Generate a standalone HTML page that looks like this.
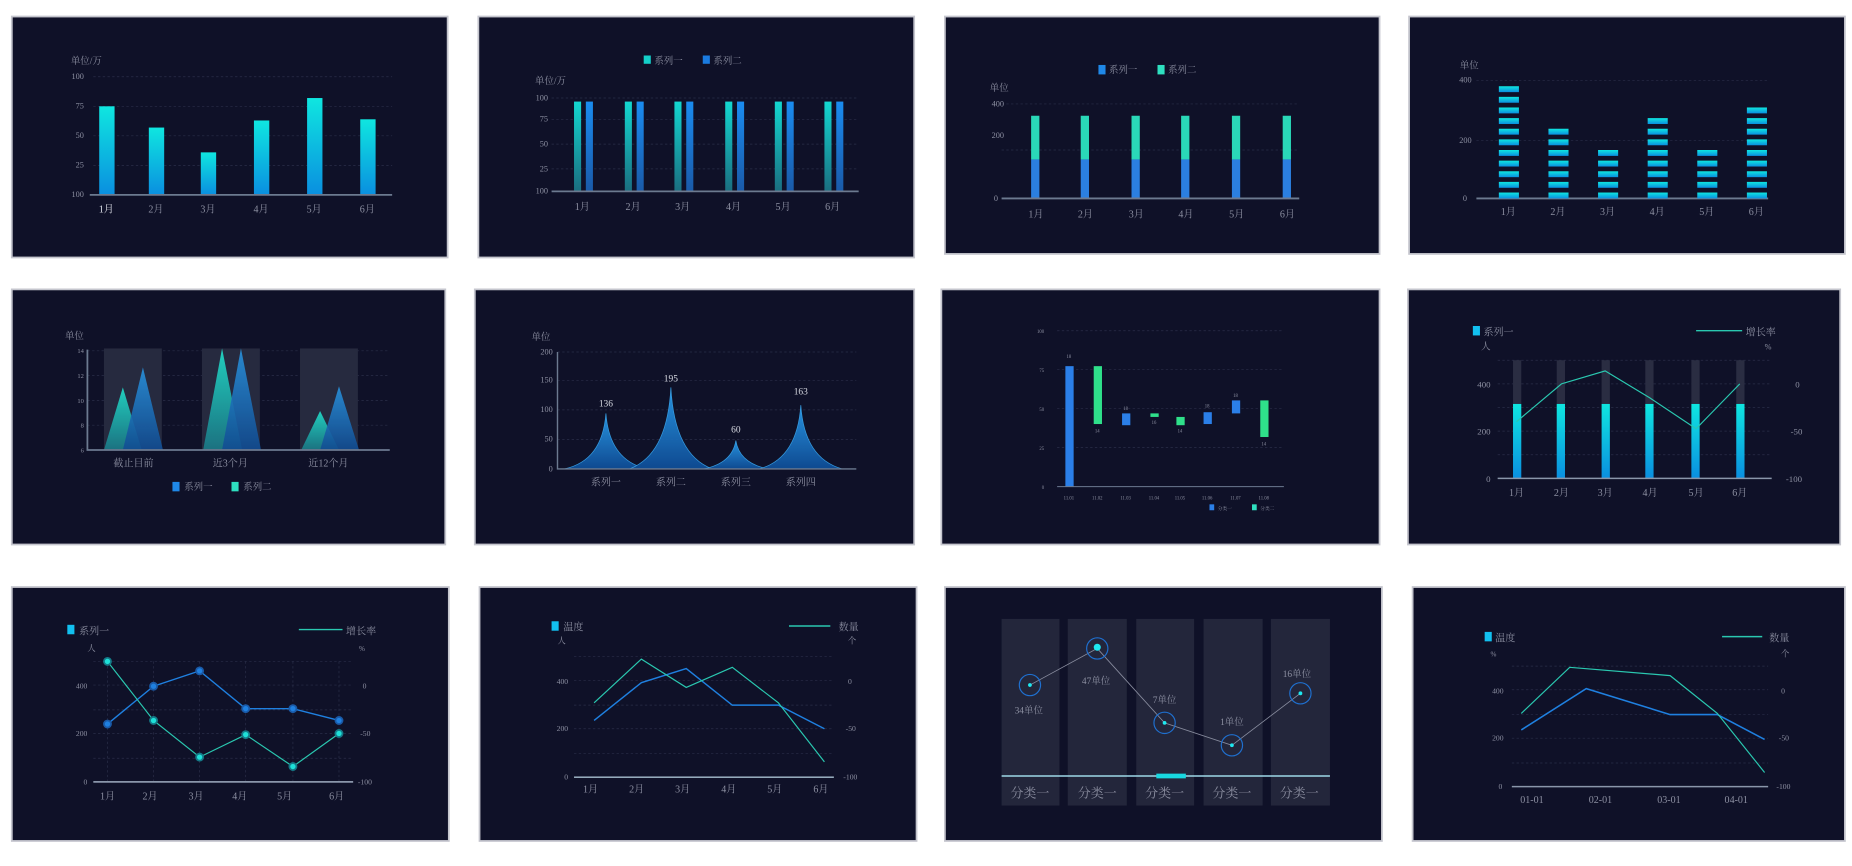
<!DOCTYPE html>
<html><head><meta charset="utf-8"><style>
html,body{margin:0;padding:0;background:#fff;}
svg{display:block;}
text{font-family:"Liberation Serif","Noto Serif CJK SC",serif;fill:#8d90a2;}
</style></head><body>
<svg width="1852" height="866" viewBox="0 0 1568 733.2" preserveAspectRatio="none" xmlns="http://www.w3.org/2000/svg">
<defs>
<linearGradient id="gc" x1="0" y1="0" x2="0" y2="1"><stop offset="0" stop-color="#0fe6e0"/><stop offset="1" stop-color="#0a8fe0"/></linearGradient>
<linearGradient id="gt" x1="0" y1="0" x2="0" y2="1"><stop offset="0" stop-color="#13d7d0"/><stop offset="1" stop-color="#1a6e80"/></linearGradient>
<linearGradient id="gb" x1="0" y1="0" x2="0" y2="1"><stop offset="0" stop-color="#1a8cf0"/><stop offset="1" stop-color="#1a5aa8"/></linearGradient>
<linearGradient id="gp" x1="0" y1="0" x2="0" y2="1"><stop offset="0" stop-color="#2a9ff0"/><stop offset="1" stop-color="#0f4f9a"/></linearGradient>
<linearGradient id="gtri" x1="0" y1="0" x2="0" y2="1"><stop offset="0" stop-color="#22e0cc"/><stop offset="1" stop-color="#1a7a88"/></linearGradient>
</defs>
<rect width="1568" height="733.2" fill="#fff"/>
<g fill="#0f1128" stroke="#c5c6ce" stroke-width="1.5">
<rect x="10" y="14" width="369" height="204"/><rect x="405" y="14" width="369" height="204"/>
<rect x="800" y="14" width="368" height="201"/><rect x="1193" y="14" width="369" height="201"/>
<rect x="10" y="245" width="367" height="216"/><rect x="402" y="245" width="372" height="216"/>
<rect x="797" y="245" width="371" height="216"/><rect x="1192" y="245" width="366" height="216"/>
<rect x="10" y="497" width="370" height="215"/><rect x="406" y="497" width="370" height="215"/>
<rect x="800" y="497" width="370" height="215"/><rect x="1196" y="497" width="366" height="215"/>
</g>
<g stroke="#2a2e48" stroke-width="0.6" stroke-dasharray="2,2">
<line x1="79" y1="65" x2="332" y2="65"/><line x1="79" y1="90" x2="332" y2="90"/><line x1="79" y1="115" x2="332" y2="115"/><line x1="79" y1="140" x2="332" y2="140"/>
<line x1="467" y1="83" x2="727" y2="83"/><line x1="467" y1="101" x2="727" y2="101"/><line x1="467" y1="122" x2="727" y2="122"/><line x1="467" y1="143" x2="727" y2="143"/>
<line x1="848" y1="88" x2="1100" y2="88"/><line x1="848" y1="127" x2="1100" y2="127"/>
<line x1="1250" y1="68" x2="1497" y2="68"/><line x1="1250" y1="119" x2="1497" y2="119"/>
<line x1="74" y1="297" x2="330" y2="297"/><line x1="74" y1="318" x2="330" y2="318"/><line x1="74" y1="339" x2="330" y2="339"/><line x1="74" y1="360" x2="330" y2="360"/>
<line x1="472" y1="298" x2="725" y2="298"/><line x1="472" y1="322" x2="725" y2="322"/><line x1="472" y1="347" x2="725" y2="347"/><line x1="472" y1="372" x2="725" y2="372"/>
<line x1="895" y1="280" x2="1087" y2="280"/><line x1="895" y1="313" x2="1087" y2="313"/><line x1="895" y1="346" x2="1087" y2="346"/><line x1="895" y1="379" x2="1087" y2="379"/>
<line x1="1268" y1="305" x2="1500" y2="305"/><line x1="1268" y1="325" x2="1500" y2="325"/><line x1="1268" y1="345" x2="1500" y2="345"/><line x1="1268" y1="365" x2="1500" y2="365"/><line x1="1268" y1="385" x2="1500" y2="385"/>
<line x1="79" y1="560" x2="299" y2="560"/><line x1="79" y1="580" x2="299" y2="580"/><line x1="79" y1="601" x2="299" y2="601"/><line x1="79" y1="621" x2="299" y2="621"/><line x1="79" y1="642" x2="299" y2="642"/>
<line x1="91" y1="560" x2="91" y2="662"/><line x1="130" y1="560" x2="130" y2="662"/><line x1="169" y1="560" x2="169" y2="662"/><line x1="208" y1="560" x2="208" y2="662"/><line x1="248" y1="560" x2="248" y2="662"/><line x1="287" y1="560" x2="287" y2="662"/>
<line x1="486" y1="556" x2="706" y2="556"/><line x1="486" y1="576" x2="706" y2="576"/><line x1="486" y1="597" x2="706" y2="597"/><line x1="486" y1="617" x2="706" y2="617"/><line x1="486" y1="638" x2="706" y2="638"/>
<line x1="1280" y1="564" x2="1497" y2="564"/><line x1="1280" y1="584" x2="1497" y2="584"/><line x1="1280" y1="605" x2="1497" y2="605"/><line x1="1280" y1="625" x2="1497" y2="625"/><line x1="1280" y1="646" x2="1497" y2="646"/>
</g>

<!-- P1 -->
<text x="60" y="54" font-size="8">单位/万</text>
<g font-size="7" text-anchor="end"><text x="71" y="67">100</text><text x="71" y="92">75</text><text x="71" y="117">50</text><text x="71" y="142">25</text><text x="71" y="167">100</text></g>
<g fill="url(#gc)"><rect x="84" y="90" width="13" height="75"/><rect x="126" y="108" width="13" height="57"/><rect x="170" y="129" width="13" height="36"/><rect x="215" y="102" width="13" height="63"/><rect x="260" y="83" width="13" height="82"/><rect x="305" y="101" width="13" height="64"/></g>
<line x1="76" y1="165" x2="332" y2="165" stroke="#6c7a90" stroke-width="1.5"/>
<g font-size="8.5" text-anchor="middle"><text x="90" y="180" style="fill:#e0e2ea">1月</text><text x="132" y="180">2月</text><text x="176" y="180">3月</text><text x="221" y="180">4月</text><text x="266" y="180">5月</text><text x="311" y="180">6月</text></g>

<!-- P2 -->
<rect x="545" y="47" width="6" height="7" fill="#14cfc9"/><text x="554" y="54" font-size="8">系列一</text>
<rect x="595" y="47" width="6" height="7" fill="#1a7be0"/><text x="604" y="54" font-size="8">系列二</text>
<text x="453" y="71" font-size="8">单位/万</text>
<g font-size="7" text-anchor="end"><text x="464" y="85">100</text><text x="464" y="103">75</text><text x="464" y="124">50</text><text x="464" y="145">25</text><text x="464" y="164">100</text></g>
<g><g fill="url(#gt)"><rect x="486" y="86" width="6" height="76"/><rect x="529" y="86" width="6" height="76"/><rect x="571" y="86" width="6" height="76"/><rect x="614" y="86" width="6" height="76"/><rect x="656" y="86" width="6" height="76"/><rect x="698" y="86" width="6" height="76"/></g>
<g fill="url(#gb)"><rect x="496" y="86" width="6" height="76"/><rect x="539" y="86" width="6" height="76"/><rect x="581" y="86" width="6" height="76"/><rect x="624" y="86" width="6" height="76"/><rect x="666" y="86" width="6" height="76"/><rect x="708" y="86" width="6" height="76"/></g></g>
<line x1="467" y1="162" x2="727" y2="162" stroke="#6c7a90" stroke-width="1.5"/>
<g font-size="8.5" text-anchor="middle"><text x="493" y="178">1月</text><text x="536" y="178">2月</text><text x="578" y="178">3月</text><text x="621" y="178">4月</text><text x="663" y="178">5月</text><text x="705" y="178">6月</text></g>

<!-- P3 -->
<rect x="930" y="55" width="6" height="8" fill="#1f88e8"/><text x="939" y="62" font-size="8">系列一</text>
<rect x="980" y="55" width="6" height="8" fill="#2ee0c0"/><text x="989" y="62" font-size="8">系列二</text>
<text x="838" y="77" font-size="8">单位</text>
<g font-size="7" text-anchor="end"><text x="850" y="90">400</text><text x="850" y="117">200</text><text x="845" y="170">0</text></g>
<g><g fill="#2ad8b8"><rect x="873" y="98" width="7" height="37"/><rect x="915" y="98" width="7" height="37"/><rect x="958" y="98" width="7" height="37"/><rect x="1000" y="98" width="7" height="37"/><rect x="1043" y="98" width="7" height="37"/><rect x="1086" y="98" width="7" height="37"/></g>
<g fill="#2b7fe0"><rect x="873" y="135" width="7" height="33"/><rect x="915" y="135" width="7" height="33"/><rect x="958" y="135" width="7" height="33"/><rect x="1000" y="135" width="7" height="33"/><rect x="1043" y="135" width="7" height="33"/><rect x="1086" y="135" width="7" height="33"/></g></g>
<line x1="848" y1="168" x2="1100" y2="168" stroke="#6c7a90" stroke-width="1.5"/>
<g font-size="8.5" text-anchor="middle"><text x="877" y="184">1月</text><text x="919" y="184">2月</text><text x="962" y="184">3月</text><text x="1004" y="184">4月</text><text x="1047" y="184">5月</text><text x="1090" y="184">6月</text></g>

<!-- P4 -->
<text x="1236" y="58" font-size="8">单位</text>
<g font-size="7" text-anchor="end"><text x="1246" y="70">400</text><text x="1246" y="121">200</text><text x="1242" y="170">0</text></g>
<g fill="url(#gc)" id="p4">
</g>
<line x1="1250" y1="168" x2="1497" y2="168" stroke="#6c7a90" stroke-width="1.5"/>
<g font-size="8.5" text-anchor="middle"><text x="1277" y="182">1月</text><text x="1319" y="182">2月</text><text x="1361" y="182">3月</text><text x="1403" y="182">4月</text><text x="1445" y="182">5月</text><text x="1487" y="182">6月</text></g>

<!-- P5 -->
<text x="55" y="287" font-size="8">单位</text>
<g fill="#262a3f"><rect x="88" y="295" width="49" height="86"/><rect x="171" y="295" width="49" height="86"/><rect x="254" y="295" width="49" height="86"/></g>
<g font-size="5.5" text-anchor="end"><text x="71" y="299">14</text><text x="71" y="320">12</text><text x="71" y="341">10</text><text x="71" y="362">8</text><text x="71" y="383">6</text></g>
<g opacity="0.9"><polygon points="88,381 104,328 120,381" fill="url(#gtri)"/><polygon points="104,381 121,311 138,381" fill="url(#gp)" opacity="0.9"/>
<polygon points="172,381 188,295 205,381" fill="url(#gtri)"/><polygon points="188,381 204,295 221,381" fill="url(#gp)" opacity="0.9"/>
<polygon points="255,381 271,348 287,381" fill="url(#gtri)"/><polygon points="271,381 287,327 304,381" fill="url(#gp)" opacity="0.9"/></g>
<polyline points="74,296 74,381 330,381" fill="none" stroke="#6c7a90" stroke-width="1.5"/>
<g font-size="8.5" text-anchor="middle"><text x="113" y="395">截止目前</text><text x="195" y="395">近3个月</text><text x="278" y="395">近12个月</text></g>
<rect x="146" y="408" width="6" height="8" fill="#1f88e8"/><text x="156" y="415" font-size="8">系列一</text>
<rect x="196" y="408" width="6" height="8" fill="#2ee0c0"/><text x="206" y="415" font-size="8">系列二</text>

<!-- P6 -->
<text x="450" y="288" font-size="8">单位</text>
<g font-size="7" text-anchor="end"><text x="468" y="300">200</text><text x="468" y="324">150</text><text x="468" y="349">100</text><text x="468" y="374">50</text><text x="468" y="399">0</text></g>
<g fill="url(#gp)" stroke="#3aa8f0" stroke-width="0.6" opacity="0.92">
<path d="M478,397 Q510,390 513,350 Q516,390 548,397 Z"/>
<path d="M533,397 Q565,385 568,328 Q571,385 603,397 Z"/>
<path d="M596,397 Q620,392 623,373 Q626,392 650,397 Z"/>
<path d="M643,397 Q675,388 678,343 Q681,388 713,397 Z"/>
</g>
<polyline points="472,298 472,397 725,397" fill="none" stroke="#6c7a90" stroke-width="1.2"/>
<g font-size="8" text-anchor="middle" style="fill:#d8dae2"><text x="513" y="344" style="fill:#d8dae2">136</text><text x="568" y="323" style="fill:#d8dae2">195</text><text x="623" y="366" style="fill:#d8dae2">60</text><text x="678" y="334" style="fill:#d8dae2">163</text></g>
<g font-size="8.5" text-anchor="middle"><text x="513" y="411">系列一</text><text x="568" y="411">系列二</text><text x="623" y="411">系列三</text><text x="678" y="411">系列四</text></g>

<!-- P7 -->
<g font-size="4" text-anchor="end"><text x="884" y="282">100</text><text x="884" y="315">75</text><text x="884" y="348">50</text><text x="884" y="381">25</text><text x="884" y="414">0</text></g>
<g fill="#2b7fe8"><rect x="902" y="310" width="7" height="102"/><rect x="950" y="350" width="7" height="10"/><rect x="1019" y="349" width="7" height="10"/><rect x="1043" y="339" width="7" height="11"/></g>
<g fill="#2fe08a"><rect x="926" y="310" width="7" height="49"/><rect x="974" y="350" width="7" height="3"/><rect x="996" y="353" width="7" height="7"/><rect x="1067" y="339" width="7" height="31"/></g>
<line x1="895" y1="412" x2="1087" y2="412" stroke="#6c7a90" stroke-width="0.8"/>
<g font-size="4" text-anchor="middle"><text x="905" y="303">18</text><text x="929" y="366">14</text><text x="953" y="347">18</text><text x="977" y="359">16</text><text x="999" y="366">14</text><text x="1022" y="345">18</text><text x="1046" y="336">18</text><text x="1070" y="377">14</text>
<text x="905" y="423">11.01</text><text x="929" y="423">11.02</text><text x="953" y="423">11.03</text><text x="977" y="423">11.04</text><text x="999" y="423">11.05</text><text x="1022" y="423">11.06</text><text x="1046" y="423">11.07</text><text x="1070" y="423">11.08</text></g>
<rect x="1024" y="427" width="4" height="5" fill="#2b7fe8"/><text x="1031" y="432" font-size="4">分类一</text>
<rect x="1060" y="427" width="4" height="5" fill="#2fe0c0"/><text x="1067" y="432" font-size="4">分类二</text>

<!-- P8 -->
<rect x="1247" y="276" width="6" height="8" fill="#12c0f0"/><text x="1256" y="284" font-size="8.5">系列一</text>
<line x1="1436" y1="280" x2="1475" y2="280" stroke="#2ac8b0" stroke-width="1.2"/><text x="1478" y="284" font-size="8.5">增长率</text>
<text x="1254" y="296" font-size="8">人</text><text x="1494" y="296" font-size="7">%</text>
<g font-size="7.5" text-anchor="end"><text x="1262" y="328">400</text><text x="1262" y="368">200</text><text x="1262" y="408">0</text></g>
<g font-size="7.5"><text x="1520" y="328">0</text><text x="1516" y="368">-50</text><text x="1512" y="408">-100</text></g>
<g fill="#2a2d42"><rect x="1281" y="305" width="7" height="37"/><rect x="1318" y="305" width="7" height="37"/><rect x="1356" y="305" width="7" height="37"/><rect x="1393" y="305" width="7" height="37"/><rect x="1432" y="305" width="7" height="37"/><rect x="1470" y="305" width="7" height="37"/></g>
<g fill="url(#gc)"><rect x="1281" y="342" width="7" height="63"/><rect x="1318" y="342" width="7" height="63"/><rect x="1356" y="342" width="7" height="63"/><rect x="1393" y="342" width="7" height="63"/><rect x="1432" y="342" width="7" height="63"/><rect x="1470" y="342" width="7" height="63"/></g>
<polyline points="1284,357 1322,325 1359,314 1397,337 1436,363 1473,325" fill="none" stroke="#2ac8b0" stroke-width="1"/>
<line x1="1268" y1="405" x2="1500" y2="405" stroke="#8a96aa" stroke-width="1.2"/>
<g font-size="8.5" text-anchor="middle"><text x="1284" y="420">1月</text><text x="1322" y="420">2月</text><text x="1359" y="420">3月</text><text x="1397" y="420">4月</text><text x="1436" y="420">5月</text><text x="1473" y="420">6月</text></g>

<!-- P9 -->
<rect x="57" y="529" width="6" height="8" fill="#12c0f0"/><text x="67" y="537" font-size="8.5">系列一</text>
<line x1="253" y1="533" x2="290" y2="533" stroke="#2ac8b0" stroke-width="1.2"/><text x="293" y="537" font-size="8.5">增长率</text>
<text x="74" y="551" font-size="7">人</text><text x="304" y="551" font-size="6">%</text>
<g font-size="6.5" text-anchor="end"><text x="74" y="583">400</text><text x="74" y="623">200</text><text x="74" y="664">0</text></g>
<g font-size="6.5"><text x="307" y="583">0</text><text x="305" y="623">-50</text><text x="303" y="664">-100</text></g>
<polyline points="91,613 130,581 169,568 208,600 248,600 287,610" fill="none" stroke="#1f80e0" stroke-width="1.2"/>
<polyline points="91,560 130,610 169,641 208,622 248,649 287,621" fill="none" stroke="#2ac8b0" stroke-width="1"/>
<g fill="#1f80e0" stroke="#1a5aa8" stroke-width="1.5"><circle cx="91" cy="613" r="3"/><circle cx="130" cy="581" r="3"/><circle cx="169" cy="568" r="3"/><circle cx="208" cy="600" r="3"/><circle cx="248" cy="600" r="3"/><circle cx="287" cy="610" r="3"/></g>
<g fill="#1ee0d8" stroke="#147a88" stroke-width="1.5"><circle cx="91" cy="560" r="3"/><circle cx="130" cy="610" r="3"/><circle cx="169" cy="641" r="3"/><circle cx="208" cy="622" r="3"/><circle cx="248" cy="649" r="3"/><circle cx="287" cy="621" r="3"/></g>
<line x1="79" y1="662" x2="299" y2="662" stroke="#8a96aa" stroke-width="1.5"/>
<g font-size="8.5" text-anchor="middle"><text x="91" y="677">1月</text><text x="127" y="677">2月</text><text x="166" y="677">3月</text><text x="203" y="677">4月</text><text x="241" y="677">5月</text><text x="285" y="677">6月</text></g>

<!-- P10 -->
<rect x="467" y="526" width="6" height="8" fill="#12c0f0"/><text x="477" y="534" font-size="8.5">温度</text>
<line x1="668" y1="530" x2="703" y2="530" stroke="#2ac8b0" stroke-width="1.2"/><text x="710" y="534" font-size="8.5">数量</text>
<text x="472" y="545" font-size="7">人</text><text x="718" y="545" font-size="7">个</text>
<g font-size="6.5" text-anchor="end"><text x="481" y="579">400</text><text x="481" y="619">200</text><text x="481" y="660">0</text></g>
<g font-size="6.5"><text x="718" y="579">0</text><text x="716" y="619">-50</text><text x="714" y="660">-100</text></g>
<polyline points="503,610 543,578 581,566 620,597 659,597 698,617" fill="none" stroke="#1f80e0" stroke-width="1.2"/>
<polyline points="503,595 543,558 581,582 620,565 659,595 698,645" fill="none" stroke="#2ac8b0" stroke-width="1"/>
<line x1="486" y1="658" x2="706" y2="658" stroke="#a8c0d0" stroke-width="1.2"/>
<g font-size="8.5" text-anchor="middle"><text x="500" y="671">1月</text><text x="539" y="671">2月</text><text x="578" y="671">3月</text><text x="617" y="671">4月</text><text x="656" y="671">5月</text><text x="695" y="671">6月</text></g>

<!-- P11 -->
<g fill="#23263b"><rect x="848" y="524" width="49" height="158"/><rect x="904" y="524" width="50" height="158"/><rect x="962" y="524" width="49" height="158"/><rect x="1019" y="524" width="50" height="158"/><rect x="1076" y="524" width="50" height="158"/></g>
<line x1="848" y1="657" x2="1126" y2="657" stroke="#9ed8e8" stroke-width="1.2"/>
<rect x="979" y="655" width="25" height="4" fill="#18d8e0"/>
<polyline points="872,580 929,549 986,612 1043,631 1101,587" fill="none" stroke="#8a8ea0" stroke-width="0.7"/>
<g fill="none" stroke="#1f70d0" stroke-width="1"><circle cx="872" cy="580" r="9"/><circle cx="929" cy="549" r="9"/><circle cx="986" cy="612" r="9"/><circle cx="1043" cy="631" r="9"/><circle cx="1101" cy="587" r="9"/></g>
<g fill="#1ee8f0"><circle cx="872" cy="580" r="1.6"/><circle cx="929" cy="548" r="3"/><circle cx="986" cy="612" r="1.6"/><circle cx="1043" cy="631" r="1.6"/><circle cx="1101" cy="587" r="1.6"/></g>
<g font-size="8" text-anchor="middle"><text x="871" y="604">34单位</text><text x="928" y="579">47单位</text><text x="986" y="595">7单位</text><text x="1043" y="614">1单位</text><text x="1098" y="573">16单位</text></g>
<g font-size="11" text-anchor="middle" style="font-family:'Noto Sans CJK SC',sans-serif"><text x="872" y="675">分类一</text><text x="929" y="675">分类一</text><text x="986" y="675">分类一</text><text x="1043" y="675">分类一</text><text x="1100" y="675">分类一</text></g>

<!-- P12 -->
<rect x="1257" y="535" width="6" height="8" fill="#12c0f0"/><text x="1266" y="543" font-size="8.5">温度</text>
<line x1="1458" y1="539" x2="1492" y2="539" stroke="#2ac8b0" stroke-width="1.2"/><text x="1498" y="543" font-size="8.5">数量</text>
<text x="1262" y="556" font-size="6">%</text><text x="1508" y="556" font-size="7">个</text>
<g font-size="6.5" text-anchor="end"><text x="1273" y="587">400</text><text x="1273" y="627">200</text><text x="1272" y="668">0</text></g>
<g font-size="6.5"><text x="1508" y="587">0</text><text x="1506" y="627">-50</text><text x="1504" y="668">-100</text></g>
<polyline points="1288,618 1343,583 1414,605 1454,605 1494,626" fill="none" stroke="#1f80e0" stroke-width="1.3"/>
<polyline points="1288,604 1329,565 1414,572 1454,604 1494,654" fill="none" stroke="#2ac8b0" stroke-width="1"/>
<line x1="1280" y1="666" x2="1497" y2="666" stroke="#8a96aa" stroke-width="1.2"/>
<g font-size="8.5" text-anchor="middle"><text x="1297" y="680">01-01</text><text x="1355" y="680">02-01</text><text x="1413" y="680">03-01</text><text x="1470" y="680">04-01</text></g>

<!-- P4 segments -->
<g fill="url(#gc)">
<g id="s1"><rect x="1269" y="163" width="17" height="5"/><rect x="1269" y="154" width="17" height="5"/><rect x="1269" y="145" width="17" height="5"/><rect x="1269" y="136" width="17" height="5"/><rect x="1269" y="127" width="17" height="5"/><rect x="1269" y="118" width="17" height="5"/><rect x="1269" y="109" width="17" height="5"/><rect x="1269" y="100" width="17" height="5"/><rect x="1269" y="91" width="17" height="5"/><rect x="1269" y="82" width="17" height="5"/><rect x="1269" y="73" width="17" height="5"/></g>
<g transform="translate(42,0)"><rect x="1269" y="163" width="17" height="5"/><rect x="1269" y="154" width="17" height="5"/><rect x="1269" y="145" width="17" height="5"/><rect x="1269" y="136" width="17" height="5"/><rect x="1269" y="127" width="17" height="5"/><rect x="1269" y="118" width="17" height="5"/><rect x="1269" y="109" width="17" height="5"/></g>
<g transform="translate(84,0)"><rect x="1269" y="163" width="17" height="5"/><rect x="1269" y="154" width="17" height="5"/><rect x="1269" y="145" width="17" height="5"/><rect x="1269" y="136" width="17" height="5"/><rect x="1269" y="127" width="17" height="5"/></g>
<g transform="translate(126,0)"><rect x="1269" y="163" width="17" height="5"/><rect x="1269" y="154" width="17" height="5"/><rect x="1269" y="145" width="17" height="5"/><rect x="1269" y="136" width="17" height="5"/><rect x="1269" y="127" width="17" height="5"/><rect x="1269" y="118" width="17" height="5"/><rect x="1269" y="109" width="17" height="5"/><rect x="1269" y="100" width="17" height="5"/></g>
<g transform="translate(168,0)"><rect x="1269" y="163" width="17" height="5"/><rect x="1269" y="154" width="17" height="5"/><rect x="1269" y="145" width="17" height="5"/><rect x="1269" y="136" width="17" height="5"/><rect x="1269" y="127" width="17" height="5"/></g>
<g transform="translate(210,0)"><rect x="1269" y="163" width="17" height="5"/><rect x="1269" y="154" width="17" height="5"/><rect x="1269" y="145" width="17" height="5"/><rect x="1269" y="136" width="17" height="5"/><rect x="1269" y="127" width="17" height="5"/><rect x="1269" y="118" width="17" height="5"/><rect x="1269" y="109" width="17" height="5"/><rect x="1269" y="100" width="17" height="5"/><rect x="1269" y="91" width="17" height="5"/></g>
</g>
</svg>
</body></html>
